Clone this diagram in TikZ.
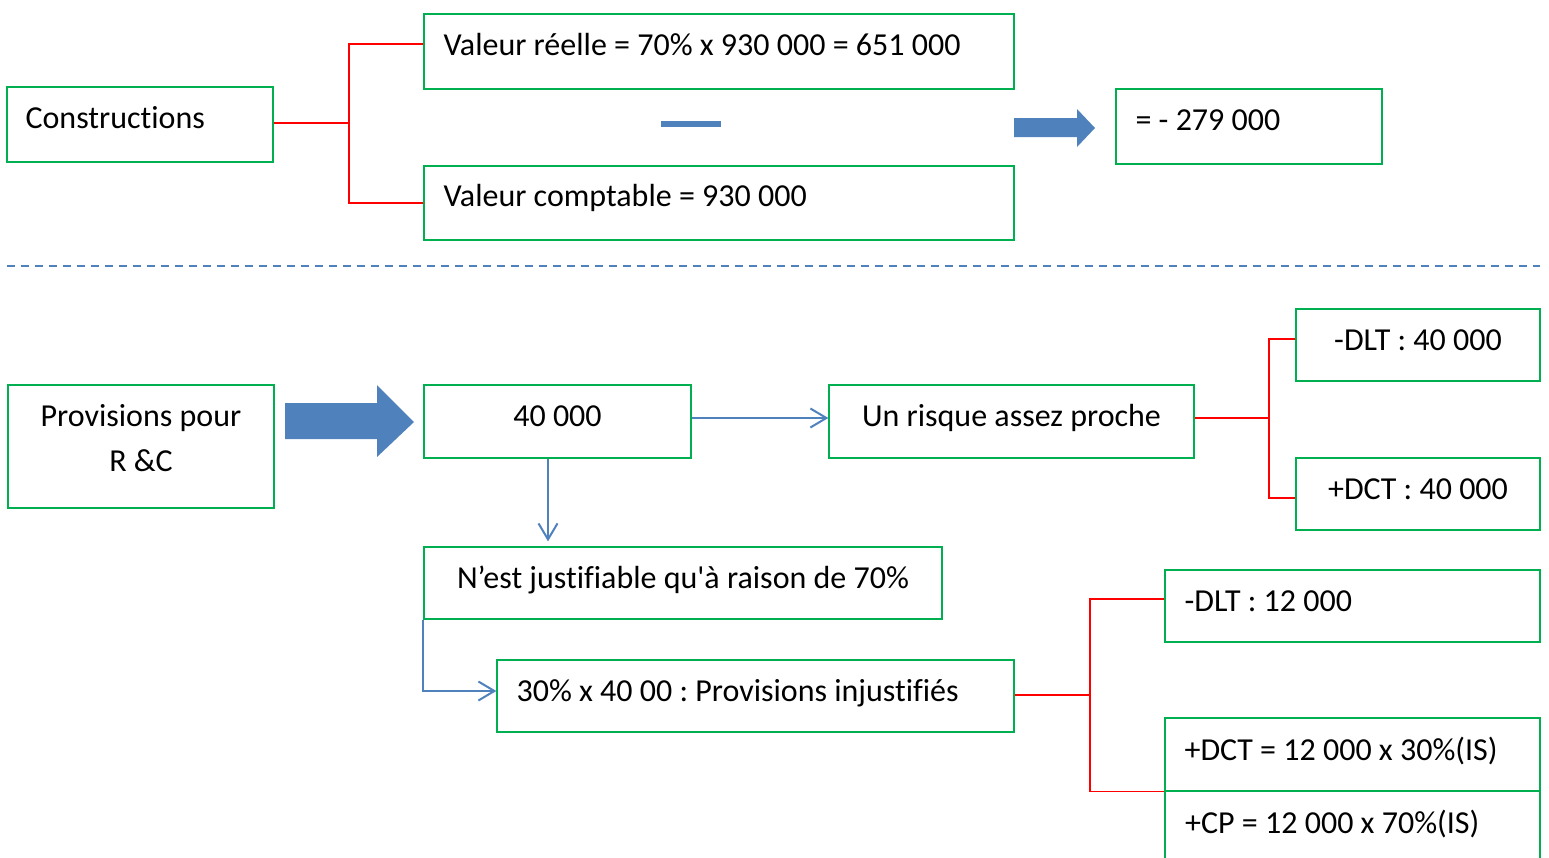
\documentclass[tikz,border=0pt]{standalone}
\usepackage{fontspec}
\setmainfont{Carlito}[Ligatures={NoCommon,TeX}]
\usetikzlibrary{arrows.meta}
\definecolor{boxgreen}{HTML}{00B050}
\definecolor{linered}{HTML}{FF0000}
\definecolor{accblue}{HTML}{4F81BD}
\newcommand\bx[5]{\node[box, minimum width={(#4-#2)*1pt}, minimum height={(#5-#3)*1pt}] (#1) at ({(#2+#4)/2},{(#3+#5)/2}) {};}
\tikzset{
  box/.style={draw=boxgreen, line width=1.3pt, inner sep=0pt, fill=none},
  txt/.style={font=\fontsize{32}{38}\selectfont\frenchspacing, inner sep=0pt, text height=20.6pt, text depth=0pt},
  redline/.style={draw=linered, line width=1.6pt},
  bluearrow/.style={draw=accblue, line width=2pt, -{Straight Barb[length=16pt,width=19pt]}},
  sepline/.style={draw=accblue, line width=2pt, dash pattern=on 8pt off 6pt},
  bigarrow/.style={fill=accblue, draw=none}
}
\begin{document}
\begin{tikzpicture}[x=1pt,y=-1pt]
\useasboundingbox (0,0) rectangle (1549,857);
\clip (0,0) rectangle (1549,857);
% top part
\bx{c}{7}{87}{273}{162}
\bx{vr}{424}{14}{1014}{89}
\bx{vc}{424}{166}{1014}{240}
\bx{res}{1116}{89}{1382}{164}
\node[txt, anchor=west] (ct) at ([shift={(19,-6.5)}]c.west) {Constructions};
\node[txt, anchor=west] (vrt) at ([shift={(20,-6.5)}]vr.west) {Valeur réelle = 70\% x 930 000 = 651 000};
\node[txt, anchor=west] (vct) at ([shift={(20,-7)}]vc.west) {Valeur comptable = 930 000};
\node[txt, anchor=west] (rest) at ([shift={(20,-6.5)}]res.west) {= - 279 000};
\fill[accblue] (661,121) rectangle (721,127);
\fill[bigarrow] (1014,118) -- (1077,118) -- (1077,109) -- (1095,128) -- (1077,147) -- (1077,137) -- (1014,137) -- cycle;
\coordinate (j1) at (349,123);
\draw[redline] (c.east |- j1) -- (j1);
\draw[redline] (vr.west |- 0,44) -| (j1) |- (vc.west);
% separator
\draw[sepline] (7,266) -- (1540,266);
% bottom part
\bx{prov}{8}{385}{274}{508}
\bx{n40}{424}{385}{691}{458}
\bx{ur}{829}{385}{1194}{458}
\bx{dlta}{1296}{309}{1540}{381}
\bx{dcta}{1296}{458}{1540}{530}
\bx{ne}{424}{547}{942}{619}
\bx{pth}{497}{660}{1014}{732}
\bx{dltb}{1165}{570}{1540}{642}
\bx{dctb}{1165}{718}{1540}{791}
\bx{cp}{1165}{791}{1540}{880}
\node[txt] (provt1) at (141,416) {Provisions pour};
\node[txt] (provt2) at (141,461) {R \&C};
\node[txt] (n40t) at ([shift={(0,-5.5)}]n40.center) {40 000};
\node[txt] (urt) at ([shift={(0,-5.5)}]ur.center) {Un risque assez proche};
\node[txt] (dltat) at ([shift={(0,-5)}]dlta.center) {-DLT : 40 000};
\node[txt] (dctat) at ([shift={(0,-5)}]dcta.center) {+DCT : 40 000};
\node[txt] (net) at ([shift={(0,-5)}]ne.center) {N’est justifiable qu\textquotesingle à raison de 70\%};
\node[txt, anchor=west] (ptht) at ([shift={(20,-5)}]pth.west) {30\% x 40 00 : Provisions injustifiés};
\node[txt, anchor=west] (dltbt) at ([shift={(20,-5)}]dltb.west) {-DLT : 12 000};
\node[txt, anchor=west] (dctbt) at ([shift={(20,-4.5)}]dctb.west) {+DCT = 12 000 x 30\%(IS)};
\node[txt, anchor=west] (cpt) at (1185,823) {+CP = 12 000 x 70\%(IS)};
\fill[bigarrow] (285,403) -- (377,403) -- (377,385) -- (414,422) -- (377,457) -- (377,439) -- (285,439) -- cycle;
\draw[bluearrow] (n40.east |- 0,418) -- (ur.west |- 0,418);
\draw[bluearrow, shorten >=5pt] (n40.south -| 548,0) -- (ne.north -| 548,0);
\draw[bluearrow] (ne.south west) |- (pth.west |- 0,691);
\coordinate (j2) at (1269,418);
\draw[redline] (ur.east |- j2) -- (j2);
\draw[redline] (dlta.west |- 0,339) -| (j2) |- (dcta.west |- 0,498);
\coordinate (j3) at (1090,695);
\draw[redline] (pth.east |- j3) -- (j3);
\draw[redline] (dltb.west |- 0,599) -| (j3) |- (dctb.south west);
\end{tikzpicture}
\end{document}
